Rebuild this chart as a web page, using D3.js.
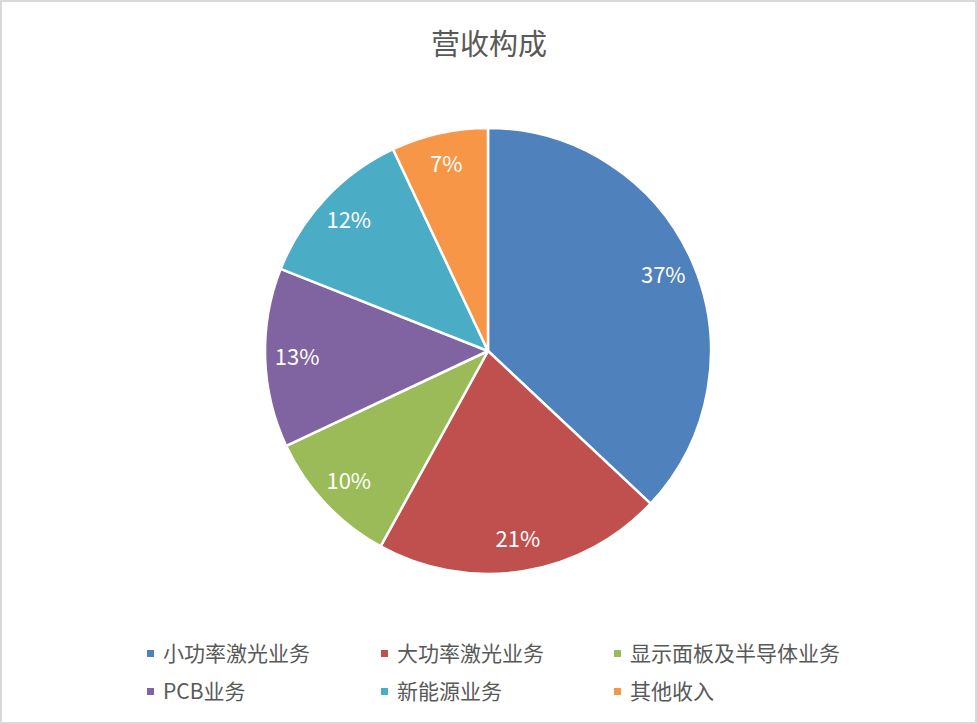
<!DOCTYPE html>
<html>
<head>
<meta charset="utf-8">
<script src="https://cdn.jsdelivr.net/npm/d3@7"></script>
<style>
  html, body { margin: 0; padding: 0; background: #fff; }
  svg { display: block; font-family: "Noto Sans CJK SC", "Noto Sans", sans-serif; }
</style>
</head>
<body>
<svg id="chart" width="977" height="724"></svg>
<script>
const W = 977, H = 724
const title = "营收构成"
const categories = ["小功率激光业务", "大功率激光业务", "显示面板及半导体业务", "PCB业务", "新能源业务", "其他收入"]
const shares = [37, 21, 10, 13, 12, 7]
const colors = ["#4f81bd", "#c0504d", "#9bbb59", "#8064a2", "#4bacc6", "#f79646"]

const svg = d3.select("#chart")

// outer frame
svg.append("rect")
  .attr("x", 1).attr("y", 1)
  .attr("width", W - 2).attr("height", H - 2)
  .attr("fill", "#fff")
  .attr("stroke", "#d9d9d9")
  .attr("stroke-width", 2)

svg.append("text")
  .attr("x", 489).attr("y", 55)
  .attr("text-anchor", "middle")
  .attr("font-size", 29)
  .attr("fill", "#595959")
  .text(title)

const cx = 488, cy = 351, r = 223
const pie = d3.pie().sort(null).value(d => d)
const arcs = pie(shares)
const arc = d3.arc().innerRadius(0).outerRadius(r)
// labels sit near the outer edge (inside end)
const labelArc = d3.arc().innerRadius(191).outerRadius(191)

const g = svg.append("g").attr("transform", "translate(" + cx + "," + cy + ")")

g.selectAll("path")
  .data(arcs)
  .join("path")
    .attr("d", arc)
    .attr("fill", (d, i) => colors[i])
    .attr("stroke", "#fff")
    .attr("stroke-width", 2.5)
    .attr("stroke-linejoin", "round")

g.selectAll("text.lbl")
  .data(arcs)
  .join("text")
    .attr("class", "lbl")
    .attr("transform", d => "translate(" + labelArc.centroid(d) + ")")
    .attr("text-anchor", "middle")
    .attr("dy", "0.35em")
    .attr("font-size", 22)
    .attr("fill", "#fff")
    .text(d => d.data + "%")

// legend, 3 columns x 2 rows
const colX = [147, 381, 614]
const rowY = [654, 692]
const leg = svg.append("g")
categories.forEach((c, i) => {
  const x = colX[i % 3], y = rowY[Math.floor(i / 3)]
  leg.append("rect")
    .attr("x", x).attr("y", y - 4)
    .attr("width", 7).attr("height", 7)
    .attr("fill", colors[i])
  leg.append("text")
    .attr("x", x + 16).attr("y", y)
    .attr("dy", "0.35em")
    .attr("font-size", 21)
    .attr("fill", "#595959")
    .text(c)
})
</script>
</body>
</html>
